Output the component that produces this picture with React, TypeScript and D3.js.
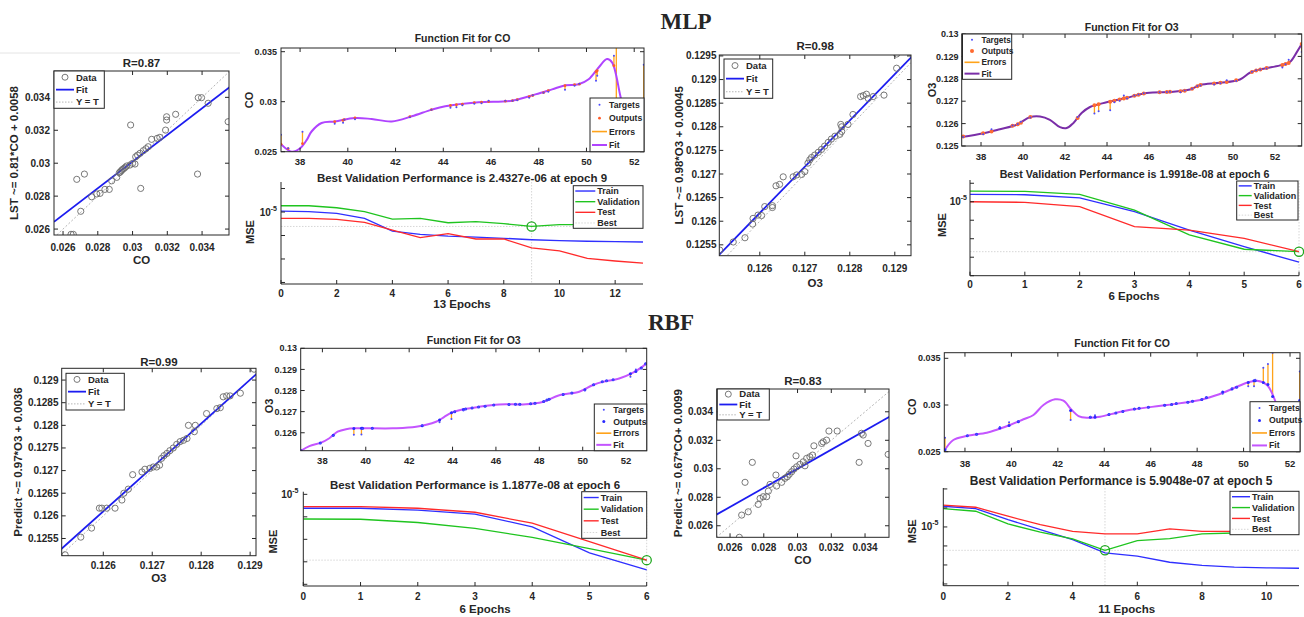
import React from "react";
import * as d3 from "d3";

const FONT = "'Liberation Sans', Arial, Helvetica, sans-serif";
const SERIF = "'Liberation Serif', 'Times New Roman', serif";
const INK = "#262626";

// ---------------- Regression data (targets on x, outputs on y) ----------------
const mlpCoTargets = [0.02646,0.02659,0.02679,0.02702,0.02723,0.02765,0.02794,0.02813,0.02841,0.02866,0.0288,0.02909,0.02924,0.0293,0.02936,0.02942,0.0295,0.02958,0.02966,0.02989,0.02985,0.03,0.03014,0.03018,0.03029,0.03043,0.03047,0.03062,0.03077,0.0309,0.0311,0.03142,0.03157,0.0319,0.03196,0.03196,0.03248,0.03378,0.03397,0.03374,0.03435,0.0355];
const mlpCoOutputs = [0.02568,0.02568,0.02902,0.02708,0.02934,0.02796,0.02813,0.02817,0.02841,0.02841,0.02893,0.02914,0.02942,0.02948,0.02955,0.02962,0.02968,0.02975,0.02983,0.03232,0.02989,0.02999,0.02995,0.03039,0.03049,0.0306,0.02847,0.03076,0.03088,0.031,0.03145,0.03151,0.03157,0.03201,0.03282,0.03262,0.03297,0.03398,0.03398,0.02934,0.03364,0.03252];

const mlpO3Targets = [0.12511,0.12541,0.12567,0.12584,0.12585,0.12596,0.12604,0.12611,0.12628,0.12628,0.12636,0.12644,0.12652,0.12674,0.12682,0.12693,0.127,0.12707,0.12711,0.12715,0.12722,0.1273,0.12737,0.12744,0.12752,0.12759,0.12767,0.12778,0.12782,0.1278,0.12782,0.12796,0.12807,0.12824,0.1283,0.12837,0.12841,0.12852,0.12876,0.12904,0.12904];
const mlpO3Outputs = [0.12539,0.12556,0.12565,0.12594,0.12606,0.12613,0.12612,0.12631,0.12633,0.12629,0.12675,0.12678,0.12694,0.12694,0.12698,0.12699,0.12705,0.12723,0.1273,0.12735,0.1274,0.12746,0.12752,0.12759,0.12767,0.12774,0.1278,0.12784,0.1279,0.12805,0.128,0.12805,0.12826,0.12864,0.12866,0.12869,0.1286,0.12864,0.12867,0.12954,0.12924];

const rbfO3Targets = [0.12522,0.12554,0.12576,0.12592,0.12597,0.12607,0.12624,0.12638,0.12642,0.12651,0.1266,0.12679,0.12685,0.12695,0.12702,0.12709,0.12715,0.12719,0.12724,0.1273,0.12736,0.12743,0.1275,0.12757,0.12764,0.12771,0.12774,0.12788,0.12786,0.12811,0.12832,0.12839,0.12845,0.12852,0.12859,0.1288,0.12908];
const rbfO3Outputs = [0.12514,0.12553,0.12573,0.12617,0.12617,0.12617,0.12617,0.12635,0.1265,0.12659,0.12691,0.12697,0.12703,0.12705,0.12708,0.12708,0.12712,0.12727,0.12733,0.12738,0.12744,0.1275,0.12758,0.12764,0.12767,0.12771,0.128,0.128,0.12786,0.12826,0.12837,0.12839,0.12863,0.12865,0.12865,0.12871,0.12924];

const rbfCoTargets = [0.02655,0.02669,0.02689,0.02708,0.02732,0.02767,0.02778,0.02797,0.02817,0.02827,0.02837,0.02872,0.02876,0.02906,0.02925,0.02939,0.02951,0.02965,0.02979,0.02995,0.03014,0.03034,0.03054,0.03073,0.03089,0.02991,0.03044,0.03097,0.03143,0.03152,0.03172,0.03186,0.03235,0.03365,0.03379,0.03389,0.03418,0.03537];
const rbfCoOutputs = [0.02519,0.02675,0.02905,0.02698,0.03045,0.0275,0.02792,0.02804,0.02804,0.02843,0.0289,0.02956,0.02879,0.02905,0.02933,0.02944,0.02961,0.02979,0.02998,0.03014,0.03031,0.03049,0.03073,0.03084,0.03096,0.03091,0.03021,0.03161,0.03178,0.03189,0.03201,0.03265,0.03265,0.03045,0.03249,0.03237,0.03178,0.03101];

const regFits = {
  mlpCo: [0.81, 0.0058],
  mlpO3: [0.98, 0.002695],
  rbfO3: [0.97, 0.00388],
  rbfCo: [0.67, 0.0099],
};

const coRegTicks = [0.026, 0.028, 0.03, 0.032, 0.034];
const o3RegTicksX = [0.126, 0.127, 0.128, 0.129];
const mlpO3RegTicksY = [0.1255, 0.126, 0.1265, 0.127, 0.1275, 0.128, 0.1285, 0.129, 0.1295];
const rbfO3RegTicksY = [0.1255, 0.126, 0.1265, 0.127, 0.1275, 0.128, 0.1285, 0.129];

// ---------------- Function fit data ----------------
const fitTicksX = [38, 40, 42, 44, 46, 48, 50, 52];
const coFitTicksY = [0.025, 0.03, 0.035];
const mlpO3FitTicksY = [0.125, 0.126, 0.127, 0.128, 0.129, 0.13];
const rbfO3FitTicksY = [0.126, 0.127, 0.128, 0.129, 0.13];

const mlpCoCurveX = [37.2,37.65,38.0,38.28,38.48,38.9,39.46,40.3,41.0,41.84,42.68,43.52,44.08,45.48,46.88,47.86,48.56,49.12,49.67,50.09,50.51,50.86,51.07,51.42,51.7];
const mlpCoCurveY = [0.02575,0.025,0.02534,0.02618,0.02702,0.02787,0.02803,0.02837,0.02827,0.02803,0.02854,0.02921,0.02955,0.02995,0.0301,0.03073,0.03123,0.03164,0.03174,0.03224,0.03342,0.03426,0.03393,0.03056,0.0275];
const mlpCoSampleX = [37.2,37.5,38.1,39.45,39.8,39.85,40.3,42.6,43.5,44.3,44.55,44.8,45.3,45.6,45.9,46.6,46.9,47.1,47.6,47.75,48.2,48.4,49.1,49.5,49.7,50.4,50.45,51.15,51.25,52.4];
const mlpCoFitTargets = [0.0267,0.02535,0.027,0.0278,0.0279,0.0282,0.02825,0.02845,0.0292,0.0294,0.02945,0.02965,0.0298,0.02985,0.0301,0.0301,0.0301,0.03015,0.0304,0.03065,0.0309,0.031,0.0312,0.0316,0.0318,0.0321,0.0326,0.0346,0.0356,0.0337];
const mlpCoFitOutputs = [0.02575,0.0253,0.0258,0.028,0.02815,0.0282,0.02837,0.0285,0.0292,0.02962,0.0297,0.02975,0.0299,0.02995,0.03,0.03005,0.0301,0.0302,0.0305,0.03062,0.0309,0.0311,0.0316,0.0317,0.03175,0.033,0.0331,0.0336,0.0295,0.03];

const mlpO3CurveX = [37.08,38.11,38.9,39.7,40.33,40.81,41.28,41.76,42.08,42.39,42.79,43.19,43.98,44.94,45.89,47.16,47.95,48.43,49.38,50.33,50.8,51.28,52.24,52.71,53.03,53.27];
const mlpO3CurveY = [0.1254,0.12557,0.12575,0.12595,0.12629,0.12632,0.12617,0.12584,0.1258,0.12602,0.12647,0.12674,0.12695,0.12715,0.12737,0.12742,0.12752,0.12772,0.12782,0.12797,0.12827,0.12842,0.1286,0.12875,0.12918,0.12955];
const mlpO3SampleX = [37.15,38.1,38.5,39.5,39.75,39.9,40.35,42.6,43.4,43.6,44.15,44.35,44.6,44.8,44.95,45.3,45.5,45.75,46.5,46.85,47.0,47.5,47.7,48.05,48.3,48.45,49.1,49.4,49.7,50.15,50.9,51.1,51.3,51.6,52.35,52.5,52.65,53.27];
const mlpO3FitTargets = [0.1254,0.12553,0.12575,0.12592,0.12598,0.12608,0.12627,0.1263,0.12645,0.12655,0.1266,0.12695,0.12702,0.12725,0.12712,0.12725,0.1273,0.12735,0.1274,0.12741,0.12742,0.1274,0.12748,0.12756,0.12768,0.1277,0.12775,0.1278,0.12793,0.1279,0.12832,0.12838,0.12841,0.12846,0.1285,0.12865,0.12885,0.1292];
const mlpO3FitOutputs = [0.12542,0.12557,0.12565,0.1259,0.12597,0.12604,0.12629,0.12625,0.12682,0.12686,0.12698,0.12702,0.12708,0.12712,0.12715,0.12724,0.12729,0.12734,0.1274,0.12741,0.12742,0.12744,0.12747,0.12756,0.12767,0.12772,0.12779,0.12782,0.12786,0.12793,0.1283,0.12837,0.12842,0.12848,0.12862,0.12866,0.12871,0.12955];

const rbfO3CurveX = [36.97,37.4,37.94,38.32,38.7,39.09,39.55,41.24,42.32,43.24,43.62,43.93,44.31,45.23,46.15,47.38,48.15,48.92,49.84,50.45,50.91,51.68,52.3,52.76,52.95];
const rbfO3CurveY = [0.12512,0.12537,0.12553,0.12574,0.12605,0.12617,0.12621,0.12621,0.12628,0.12652,0.12675,0.12694,0.12707,0.12723,0.12734,0.12735,0.12746,0.12778,0.12794,0.12825,0.12841,0.12857,0.12884,0.12913,0.1293];
const rbfO3SampleX = [37.02,37.9,38.5,39.45,39.8,39.85,40.3,42.6,43.4,43.95,44.1,44.5,44.6,44.9,45.2,45.5,45.9,46.6,46.9,47.1,47.6,47.8,48.2,48.35,48.45,49.1,49.5,50.1,50.5,50.9,51.1,51.4,52.2,52.45,52.7,52.9];
const rbfO3FitTargets = [0.12515,0.1255,0.12585,0.1259,0.12592,0.12618,0.1262,0.12635,0.1265,0.12665,0.127,0.12705,0.12712,0.12718,0.12722,0.12727,0.1273,0.12734,0.12735,0.12736,0.12737,0.1274,0.12748,0.12755,0.1276,0.12782,0.12788,0.128,0.12827,0.1284,0.12845,0.1285,0.12865,0.129,0.12905,0.12925];
const rbfO3FitOutputs = [0.12515,0.12552,0.12588,0.1262,0.12621,0.12621,0.12621,0.12633,0.1266,0.12695,0.127,0.1271,0.12712,0.12717,0.12722,0.12726,0.12731,0.12734,0.12735,0.12735,0.12737,0.1274,0.12748,0.12755,0.12759,0.12781,0.12788,0.12804,0.12827,0.12841,0.12846,0.12851,0.1288,0.1289,0.12907,0.12927];

const rbfCoCurveX = [37.11,37.5,38.07,38.94,39.37,39.94,40.52,40.95,41.38,41.88,42.24,42.6,42.89,43.25,43.82,44.54,45.26,46.7,48.13,48.85,49.57,50.14,50.58,51.01,51.29,51.6];
const rbfCoCurveY = [0.0251,0.02625,0.02668,0.02703,0.02735,0.02786,0.02847,0.02893,0.03,0.03061,0.03046,0.02946,0.02882,0.02864,0.02875,0.02918,0.02954,0.03,0.03054,0.03107,0.03179,0.03239,0.0326,0.03214,0.03089,0.0285];
const rbfCoSampleX = [37.14,38.1,38.5,39.5,39.9,40.3,42.55,43.4,43.6,44.2,44.5,44.8,45.3,45.5,45.9,46.6,46.9,47.1,47.6,47.8,48.2,48.4,49.1,49.5,49.7,50.2,50.45,50.5,50.85,51.05,51.25,52.42];
const rbfCoFitTargets = [0.0265,0.02672,0.02685,0.02765,0.02815,0.0283,0.0284,0.02875,0.0289,0.029,0.02915,0.0293,0.02955,0.02965,0.02975,0.02995,0.03,0.03015,0.0303,0.0304,0.0306,0.0308,0.0312,0.0318,0.0319,0.032,0.032,0.0327,0.034,0.0344,0.0356,0.0336];
const rbfCoFitOutputs = [0.0252,0.0267,0.02688,0.02755,0.0278,0.0282,0.0294,0.02868,0.0287,0.02898,0.02915,0.0293,0.02956,0.02965,0.02975,0.02997,0.03005,0.03015,0.0303,0.0304,0.0306,0.0308,0.0314,0.0317,0.0319,0.0324,0.0326,0.0326,0.0324,0.0322,0.0309,0.0305];

// ---------------- Performance (MSE) data ----------------
const mlpCoTrain = [1.1e-5,1.05e-5,8.8e-6,5.4e-6,1.55e-6,1.12e-6,9.5e-7,8.6e-7,7.6e-7,6.6e-7,6.0e-7,5.7e-7,5.45e-7,5.3e-7];
const mlpCoVal = [1.85e-5,1.85e-5,1.52e-5,1.03e-5,5.0e-6,5.4e-6,3.5e-6,3.9e-6,3.2e-6,2.4327e-6,2.9e-6,2.9e-6,2.9e-6,2.9e-6];
const mlpCoTest = [5.4e-6,5.4e-6,4.9e-6,3.65e-6,1.71e-6,8.1e-7,1.19e-6,7.1e-7,7.1e-7,3.0e-7,2.2e-7,1.07e-7,8.2e-8,6.6e-8];

const mlpO3Train = [2.5e-5,2.39e-5,1.64e-5,2.9e-6,2.95e-7,3.7e-8,5.4e-9];
const mlpO3Val = [3.8e-5,3.65e-5,2.5e-5,3.56e-6,1.6e-7,2.7e-8,1.9918e-8];
const mlpO3Test = [1.0e-5,9.3e-6,5.4e-6,4.5e-7,2.95e-7,1.05e-7,2.0e-8];

const rbfO3Train = [2.41e-6,2.41e-6,2.0e-6,1.33e-6,3.6e-7,2.5e-8,4.4e-9];
const rbfO3Val = [8.0e-7,7.8e-7,5.6e-7,3.05e-7,1.21e-7,3.9e-8,1.1877e-8];
const rbfO3Test = [2.84e-6,2.84e-6,2.41e-6,1.6e-6,5.2e-7,7.9e-8,1.19e-8];

const rbfCoTrain = [1.23e-4,9.2e-5,2.42e-5,7.2e-6,2.15e-6,4.3e-7,2.9e-7,1.39e-7,9.6e-8,7.6e-8,7.0e-8,6.7e-8];
const rbfCoVal = [9.2e-5,6.7e-5,1.44e-5,5.3e-6,2.33e-6,5.9048e-7,1.9e-6,2.42e-6,4.3e-6,4.8e-6,4.8e-6,5.5e-6];
const rbfCoTest = [1.39e-4,1.09e-4,3.66e-5,1.32e-5,5.9e-6,4.3e-6,4.3e-6,7.9e-6,5.9e-6,5.9e-6,6.15e-6,6.15e-6];

const epochTicks13 = [0, 2, 4, 6, 8, 10, 12];
const epochTicks6 = [0, 1, 2, 3, 4, 5, 6];
const epochTicks11 = [0, 2, 4, 6, 8, 10];
const decadeTicks = [1e-3, 1e-4, 1e-5, 1e-6, 1e-7, 1e-8, 1e-9];

// ---------------- helpers ----------------
type Box = { x0: number; x1: number; y0: number; y1: number };
type Item = { label: string; kind: "circle" | "line" | "dot" | "dotted"; color: string; w?: number; r?: number };

const fmt = (v: number) => String(+v.toPrecision(6));

function Txt(p: { x: number; y: number; fs?: number; anchor?: string; rot?: boolean; children: React.ReactNode; family?: string }) {
  const fs = p.fs ?? 10;
  return (
    <text
      transform={`translate(${p.x},${p.y})${p.rot ? " rotate(-90)" : ""}`}
      dy="0.35em"
      textAnchor={p.anchor ?? "middle"}
      fontSize={fs}
      fontWeight="bold"
      fontFamily={p.family ?? FONT}
      fill={INK}
    >
      {p.children}
    </text>
  );
}

function Legend({ b, items, sym = 18, fs = 9.5 }: { b: Box; items: Item[]; sym?: number; fs?: number }) {
  const h = (b.y1 - b.y0) / items.length;
  const sx0 = b.x0 + 2;
  const sx1 = b.x0 + 2 + sym;
  const cx = (sx0 + sx1) / 2;
  return (
    <g>
      <rect x={b.x0} y={b.y0} width={b.x1 - b.x0} height={b.y1 - b.y0} fill="#fff" stroke={INK} strokeWidth={1} />
      {items.map((it, i) => {
        const cy = b.y0 + h * (i + 0.5);
        let s: React.ReactNode;
        if (it.kind === "circle") s = <circle cx={cx} cy={cy} r={it.r ?? 3} fill="none" stroke={it.color} strokeWidth={0.9} />;
        else if (it.kind === "dot") s = <circle cx={cx} cy={cy} r={it.r ?? 1.2} fill={it.color} />;
        else
          s = (
            <line x1={sx0} x2={sx1} y1={cy} y2={cy} stroke={it.color} strokeWidth={it.w ?? 1.6}
              strokeDasharray={it.kind === "dotted" ? "1.5,1.5" : undefined} />
          );
        return (
          <g key={i}>
            {s}
            <text x={sx1 + 2} y={cy} dy="0.35em" fontSize={fs} fontWeight="bold" fontFamily={FONT} fill={INK}>
              {it.label}
            </text>
          </g>
        );
      })}
    </g>
  );
}

function Frame({ b, xt, yt, x, y, full = true, len = 4 }: { b: Box; xt: number[]; yt: number[]; x: (v: number) => number; y: (v: number) => number; full?: boolean; len?: number }) {
  const segs: number[][] = [];
  xt.forEach((t) => {
    const px = x(t);
    segs.push([px, b.y1, px, b.y1 - len]);
    if (full) segs.push([px, b.y0, px, b.y0 + len]);
  });
  yt.forEach((t) => {
    const py = y(t);
    if (py < b.y0 - 0.5 || py > b.y1 + 0.5) return;
    segs.push([b.x0, py, b.x0 + len, py]);
    if (full) segs.push([b.x1, py, b.x1 - len, py]);
  });
  return (
    <g>
      {segs.map((s, i) => (
        <line key={i} x1={s[0]} y1={s[1]} x2={s[2]} y2={s[3]} stroke={INK} strokeWidth={1} />
      ))}
      {full ? (
        <rect x={b.x0} y={b.y0} width={b.x1 - b.x0} height={b.y1 - b.y0} fill="none" stroke={INK} strokeWidth={1} />
      ) : (
        <path d={`M${b.x0},${b.y0}V${b.y1}H${b.x1}`} fill="none" stroke={INK} strokeWidth={1} />
      )}
    </g>
  );
}

function Regression(p: {
  id: string; b: Box; xDom: number[]; yDom: number[]; xt: number[]; yt: number[];
  xs: number[]; ys: number[]; fit: number[]; title: string; titleY: number;
  xLabel: string; xLabelY: number; yLabel: string; yLabelX: number; xTickY: number; yTickX: number; leg: Box;
}) {
  const { b } = p;
  const x = d3.scaleLinear().domain(p.xDom).range([b.x0, b.x1]);
  const y = d3.scaleLinear().domain(p.yDom).range([b.y1, b.y0]);
  const lo = Math.min(p.xDom[0], p.yDom[0]);
  const hi = Math.max(p.xDom[1], p.yDom[1]);
  const fitLine = d3.line<number>().x((d) => x(d)).y((d) => y(p.fit[0] * d + p.fit[1]));
  const idLine = d3.line<number>().x((d) => x(d)).y((d) => y(d));
  return (
    <g>
      <clipPath id={p.id}>
        <rect x={b.x0} y={b.y0} width={b.x1 - b.x0} height={b.y1 - b.y0} />
      </clipPath>
      <rect x={b.x0} y={b.y0} width={b.x1 - b.x0} height={b.y1 - b.y0} fill="#fff" />
      <g clipPath={`url(#${p.id})`}>
        <path d={idLine([lo, hi]) ?? ""} stroke="#b5b5b5" strokeWidth={1} strokeDasharray="2,2" fill="none" />
        <path d={fitLine([lo, hi]) ?? ""} stroke="#1c1cf0" strokeWidth={1.8} fill="none" />
        {p.xs.map((v, i) => (
          <circle key={i} cx={x(v)} cy={y(p.ys[i])} r={3.1} fill="none" stroke="#6a6a6a" strokeWidth={0.9} />
        ))}
      </g>
      <Frame b={b} xt={p.xt} yt={p.yt} x={x} y={y} />
      {p.xt.map((t) => (
        <Txt key={"x" + t} x={x(t)} y={p.xTickY}>{fmt(t)}</Txt>
      ))}
      {p.yt.map((t) => (
        <Txt key={"y" + t} x={p.yTickX} y={y(t)} anchor="end">{fmt(t)}</Txt>
      ))}
      <Txt x={(b.x0 + b.x1) / 2} y={p.titleY} fs={11.5}>{p.title}</Txt>
      <Txt x={(b.x0 + b.x1) / 2} y={p.xLabelY} fs={11.5}>{p.xLabel}</Txt>
      <Txt x={p.yLabelX} y={(b.y0 + b.y1) / 2} fs={11.5} rot>{p.yLabel}</Txt>
      <Legend
        b={p.leg}
        items={[
          { label: "Data", kind: "circle", color: "#6a6a6a" },
          { label: "Fit", kind: "line", color: "#1c1cf0", w: 1.8 },
          { label: "Y = T", kind: "dotted", color: "#b5b5b5", w: 1 },
        ]}
      />
    </g>
  );
}

function FitPanel(p: {
  id: string; b: Box; xDom: number[]; yDom: number[]; xt: number[]; yt: number[];
  cx: number[]; cy: number[]; sx: number[]; tg: number[]; out: number[];
  fitColor: string; outColor: string; outR: number; title: string; titleY: number; xTickY: number; yTickX: number;
  yLabel: string; yLabelX: number; yLabelY: number; leg: Box; legFs?: number;
}) {
  const { b } = p;
  const x = d3.scaleLinear().domain(p.xDom).range([b.x0, b.x1]);
  const y = d3.scaleLinear().domain(p.yDom).range([b.y1, b.y0]);
  const curve = d3.line<number>().x((d) => x(d)).y((_, i) => y(p.cy[i])).curve(d3.curveCatmullRom.alpha(0.5));
  return (
    <g>
      <clipPath id={p.id}>
        <rect x={b.x0} y={b.y0} width={b.x1 - b.x0} height={b.y1 - b.y0} />
      </clipPath>
      <rect x={b.x0} y={b.y0} width={b.x1 - b.x0} height={b.y1 - b.y0} fill="#fff" />
      <g clipPath={`url(#${p.id})`}>
        {p.sx.map((v, i) => (
          <line key={"e" + i} x1={x(v)} x2={x(v)} y1={y(p.tg[i])} y2={y(p.out[i])} stroke="#ffa31a" strokeWidth={1.3} />
        ))}
        <path d={curve(p.cx) ?? ""} stroke={p.fitColor} strokeWidth={2} fill="none" />
        {p.sx.map((v, i) => (
          <circle key={"o" + i} cx={x(v)} cy={y(p.out[i])} r={p.outR} fill={p.outColor} />
        ))}
        {p.sx.map((v, i) => (
          <circle key={"t" + i} cx={x(v)} cy={y(p.tg[i])} r={1} fill="#4a4aff" />
        ))}
      </g>
      <Frame b={b} xt={p.xt} yt={p.yt} x={x} y={y} />
      {p.xt.map((t) => (
        <Txt key={"x" + t} x={x(t)} y={p.xTickY} fs={9.5}>{fmt(t)}</Txt>
      ))}
      {p.yt.map((t) => (
        <Txt key={"y" + t} x={p.yTickX} y={y(t)} anchor="end" fs={9}>{fmt(t)}</Txt>
      ))}
      <Txt x={(b.x0 + b.x1) / 2} y={p.titleY} fs={10.5}>{p.title}</Txt>
      <Txt x={p.yLabelX} y={p.yLabelY} fs={11} rot>{p.yLabel}</Txt>
      <Legend
        b={p.leg}
        sym={15}
        fs={p.legFs ?? 8.7}
        items={[
          { label: "Targets", kind: "dot", color: "#4a4aff", r: 1 },
          { label: "Outputs", kind: "dot", color: p.outColor, r: p.outR },
          { label: "Errors", kind: "line", color: "#ffa31a", w: 1.6 },
          { label: "Fit", kind: "line", color: p.fitColor, w: 2 },
        ]}
      />
    </g>
  );
}

function MsePanel(p: {
  id: string; b: Box; epochs: number; yDom: number[]; xt: number[];
  train: number[]; val: number[]; test: number[]; best: number;
  title: string; titleY: number; titleFs: number; xTickY: number; yTickX: number;
  xLabel: string; xLabelX: number; xLabelY: number; yLabelX: number; yLabelY: number; leg: Box; legSym: number;
}) {
  const { b } = p;
  const x = d3.scaleLinear().domain([0, p.epochs]).range([b.x0, b.x1]);
  const y = d3.scaleLog().domain(p.yDom).range([b.y1, b.y0]);
  const line = d3.line<number>().x((_, i) => x(i)).y((d) => y(d));
  const yt = decadeTicks.filter((t) => t >= p.yDom[0] && t <= p.yDom[1]);
  const bv = p.val[p.best];
  return (
    <g>
      <clipPath id={p.id}>
        <rect x={b.x0} y={b.y0} width={b.x1 - b.x0 + 1} height={b.y1 - b.y0} />
      </clipPath>
      <line x1={x(p.best)} x2={x(p.best)} y1={b.y0} y2={b.y1} stroke="#d6d6d6" strokeWidth={1} strokeDasharray="1.5,1.5" />
      <line x1={b.x0} x2={b.x1} y1={y(bv)} y2={y(bv)} stroke="#d6d6d6" strokeWidth={1} strokeDasharray="1.5,1.5" />
      <g clipPath={`url(#${p.id})`}>
        <path d={line(p.train) ?? ""} stroke="#2f2fff" strokeWidth={1.3} fill="none" />
        <path d={line(p.val) ?? ""} stroke="#1fc41f" strokeWidth={1.3} fill="none" />
        <path d={line(p.test) ?? ""} stroke="#ff2a2a" strokeWidth={1.3} fill="none" />
      </g>
      <circle cx={x(p.best)} cy={y(bv)} r={4.6} fill="none" stroke="#1fa81f" strokeWidth={1.3} />
      <Frame b={b} xt={p.xt} yt={yt} x={x} y={y} full={false} />
      {p.xt.map((t) => (
        <Txt key={"x" + t} x={x(t)} y={p.xTickY}>{String(t)}</Txt>
      ))}
      <text x={p.yTickX} y={y(1e-5)} dy="0.35em" textAnchor="end" fontSize={10} fontWeight="bold" fontFamily={FONT} fill={INK}>
        10<tspan fontSize={7} dy="-5">-5</tspan>
      </text>
      <Txt x={(b.x0 + b.x1) / 2} y={p.titleY} fs={p.titleFs}>{p.title}</Txt>
      <Txt x={p.xLabelX} y={p.xLabelY} fs={11.5}>{p.xLabel}</Txt>
      <Txt x={p.yLabelX} y={p.yLabelY} fs={11} rot>MSE</Txt>
      <Legend
        b={p.leg}
        sym={p.legSym}
        fs={9}
        items={[
          { label: "Train", kind: "line", color: "#2f2fff", w: 1.4 },
          { label: "Validation", kind: "line", color: "#1fc41f", w: 1.4 },
          { label: "Test", kind: "line", color: "#ff2a2a", w: 1.4 },
          { label: "Best", kind: "dotted", color: "#d6d6d6", w: 1 },
        ]}
      />
    </g>
  );
}

export default function App() {
  return (
    <div style={{ position: "absolute", left: 0, top: 0 }}>
      <svg width={1304} height={617} viewBox="0 0 1304 617" style={{ display: "block", background: "#fff" }}>
        <rect x={0} y={0} width={1304} height={617} fill="#fff" />
        <line x1={0} x2={240} y1={53} y2={53} stroke="#e4e4e4" strokeWidth={1} />

        <Txt x={686} y={21} fs={23} family={SERIF}>MLP</Txt>
        <Txt x={671} y={322} fs={23} family={SERIF}>RBF</Txt>

        {/* ---------- MLP row ---------- */}
        <Regression
          id="r1" b={{ x0: 54, x1: 229, y0: 71, y1: 235 }} xDom={[0.02548, 0.03555]} yDom={[0.02564, 0.0356]}
          xt={coRegTicks} yt={coRegTicks} xs={mlpCoTargets} ys={mlpCoOutputs} fit={regFits.mlpCo}
          title="R=0.87" titleY={63} xLabel="CO" xLabelY={260} yLabel="LST ~= 0.81*CO + 0.0058" yLabelX={14}
          xTickY={247} yTickX={50} leg={{ x0: 54, x1: 104.3, y0: 71, y1: 108.3 }}
        />
        <FitPanel
          id="f1" b={{ x0: 281, x1: 644, y0: 48, y1: 151.7 }} xDom={[37.2, 52.41]} yDom={[0.025, 0.03537]}
          xt={fitTicksX} yt={coFitTicksY} cx={mlpCoCurveX} cy={mlpCoCurveY} sx={mlpCoSampleX} tg={mlpCoFitTargets} out={mlpCoFitOutputs}
          fitColor="#b044ff" outColor="#ff5a28" outR={1.4} title="Function Fit for CO" titleY={38} xTickY={162} yTickX={277}
          yLabel="CO" yLabelX={249} yLabelY={100} leg={{ x0: 590, x1: 644, y0: 98, y1: 151.7 }}
        />
        <MsePanel
          id="m1" b={{ x0: 281, x1: 643, y0: 182, y1: 284 }} epochs={13} yDom={[8.6e-9, 1.9e-4]} xt={epochTicks13}
          train={mlpCoTrain} val={mlpCoVal} test={mlpCoTest} best={9}
          title="Best Validation Performance is 2.4327e-06 at epoch 9" titleY={178.3} titleFs={11.5} xTickY={293} yTickX={277}
          xLabel="13 Epochs" xLabelX={462} xLabelY={304} yLabelX={250} yLabelY={232} leg={{ x0: 573.3, x1: 643, y0: 185.7, y1: 228.3 }} legSym={20}
        />
        <Regression
          id="r2" b={{ x0: 719.3, x1: 911, y0: 55, y1: 255.7 }} xDom={[0.1251, 0.12936]} yDom={[0.12527, 0.12952]}
          xt={o3RegTicksX} yt={mlpO3RegTicksY} xs={mlpO3Targets} ys={mlpO3Outputs} fit={regFits.mlpO3}
          title="R=0.98" titleY={46} xLabel="O3" xLabelY={283.3} yLabel="LST ~= 0.98*O3 + 0.00045" yLabelX={679.3}
          xTickY={268.3} yTickX={716.5} leg={{ x0: 724, x1: 772.7, y0: 59, y1: 98.3 }}
        />
        <FitPanel
          id="f2" b={{ x0: 961.7, x1: 1301.7, y0: 34, y1: 146 }} xDom={[37.08, 53.27]} yDom={[0.125, 0.13]}
          xt={fitTicksX} yt={mlpO3FitTicksY} cx={mlpO3CurveX} cy={mlpO3CurveY} sx={mlpO3SampleX} tg={mlpO3FitTargets} out={mlpO3FitOutputs}
          fitColor="#7a2ea8" outColor="#ff6a30" outR={2} title="Function Fit for O3" titleY={27.3} xTickY={156.7} yTickX={958.5}
          yLabel="O3" yLabelX={931.7} yLabelY={90} leg={{ x0: 962.5, x1: 1011.7, y0: 34, y1: 79.3 }} legFs={8.3}
        />
        <MsePanel
          id="m2" b={{ x0: 970, x1: 1299, y0: 180, y1: 275.7 }} epochs={6} yDom={[1e-9, 1.5e-4]} xt={epochTicks6}
          train={mlpO3Train} val={mlpO3Val} test={mlpO3Test} best={6}
          title="Best Validation Performance is 1.9918e-08 at epoch 6" titleY={174} titleFs={10.7} xTickY={284.3} yTickX={967}
          xLabel="6 Epochs" xLabelX={1134} xLabelY={295.7} yLabelX={941.7} yLabelY={225} leg={{ x0: 1236.7, x1: 1298, y0: 181, y1: 220 }} legSym={13}
        />

        {/* ---------- RBF row ---------- */}
        <Regression
          id="r3" b={{ x0: 61.7, x1: 256, y0: 368.3, y1: 555.7 }} xDom={[0.12515, 0.12912]} yDom={[0.12512, 0.12926]}
          xt={o3RegTicksX} yt={rbfO3RegTicksY} xs={rbfO3Targets} ys={rbfO3Outputs} fit={regFits.rbfO3}
          title="R=0.99" titleY={362} xLabel="O3" xLabelY={578} yLabel="Predict ~= 0.97*O3 + 0.0036" yLabelX={18.3}
          xTickY={565} yTickX={58.5} leg={{ x0: 66, x1: 124.3, y0: 373.3, y1: 410 }}
        />
        <FitPanel
          id="f3" b={{ x0: 300.7, x1: 646.7, y0: 348.3, y1: 450.7 }} xDom={[37.0, 52.95]} yDom={[0.12515, 0.13]}
          xt={fitTicksX} yt={rbfO3FitTicksY} cx={rbfO3CurveX} cy={rbfO3CurveY} sx={rbfO3SampleX} tg={rbfO3FitTargets} out={rbfO3FitOutputs}
          fitColor="#c455ff" outColor="#2a2aff" outR={1.5} title="Function Fit for O3" titleY={340.7} xTickY={461} yTickX={297}
          yLabel="O3" yLabelX={269.3} yLabelY={406} leg={{ x0: 594.3, x1: 646.7, y0: 404, y1: 450.7 }}
        />
        <MsePanel
          id="m3" b={{ x0: 303.3, x1: 646.7, y0: 491.7, y1: 586 }} epochs={6} yDom={[8.4e-10, 1.31e-5]} xt={epochTicks6}
          train={rbfO3Train} val={rbfO3Val} test={rbfO3Test} best={6}
          title="Best Validation Performance is 1.1877e-08 at epoch 6" titleY={485} titleFs={11.5} xTickY={596.7} yTickX={298.5}
          xLabel="6 Epochs" xLabelX={485} xLabelY={609.3} yLabelX={273.3} yLabelY={541.7} leg={{ x0: 581.7, x1: 646.7, y0: 491.7, y1: 538.3 }} legSym={15}
        />
        <Regression
          id="r4" b={{ x0: 716.7, x1: 889, y0: 389, y1: 537.3 }} xDom={[0.02521, 0.03542]} yDom={[0.02519, 0.0356]}
          xt={coRegTicks} yt={coRegTicks} xs={rbfCoTargets} ys={rbfCoOutputs} fit={regFits.rbfCo}
          title="R=0.83" titleY={381} xLabel="CO" xLabelY={560} yLabel="Predict ~= 0.67*CO+ 0.0099" yLabelX={678.3}
          xTickY={547.7} yTickX={713} leg={{ x0: 717.3, x1: 769.3, y0: 389, y1: 420 }}
        />
        <FitPanel
          id="f4" b={{ x0: 944.3, x1: 1300, y0: 352.7, y1: 451.7 }} xDom={[37.11, 52.43]} yDom={[0.025, 0.0356]}
          xt={fitTicksX} yt={coFitTicksY} cx={rbfCoCurveX} cy={rbfCoCurveY} sx={rbfCoSampleX} tg={rbfCoFitTargets} out={rbfCoFitOutputs}
          fitColor="#c455ff" outColor="#2a2aff" outR={1.5} title="Function Fit for CO" titleY={343} xTickY={463.3} yTickX={940.5}
          yLabel="CO" yLabelX={911.7} yLabelY={406.7} leg={{ x0: 1250, x1: 1300, y0: 401.7, y1: 451.7 }}
        />
        <MsePanel
          id="m4" b={{ x0: 943.3, x1: 1299, y0: 488, y1: 585.7 }} epochs={11} yDom={[8.1e-9, 1.12e-3]} xt={epochTicks11}
          train={rbfCoTrain} val={rbfCoVal} test={rbfCoTest} best={5}
          title="Best Validation Performance is 5.9048e-07 at epoch 5" titleY={481} titleFs={12} xTickY={596.3} yTickX={938.5}
          xLabel="11 Epochs" xLabelX={1126.7} xLabelY={609} yLabelX={911.7} yLabelY={531.3} leg={{ x0: 1230, x1: 1299, y0: 491.3, y1: 534.7 }} legSym={18}
        />
      </svg>
    </div>
  );
}
